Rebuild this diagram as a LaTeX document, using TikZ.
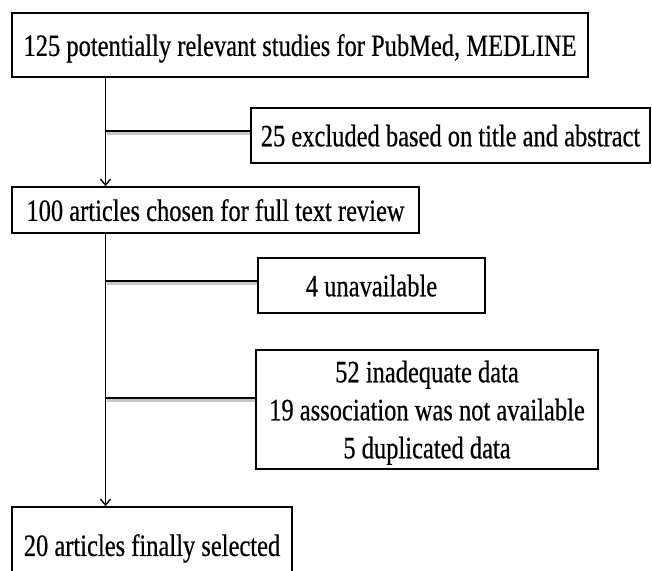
\documentclass[tikz,border=0pt]{standalone}
\usepackage{fontspec}
\setmainfont{Liberation Serif}[FakeStretch=0.79,FakeBold=0.5]
\usetikzlibrary{arrows.meta}
\begin{document}
\begin{tikzpicture}[x=1pt,y=-1pt,
  box/.style={draw, line width=1.6pt, inner sep=0pt, text depth=0pt,
    font=\fontsize{31}{38}\selectfont, align=center},
  conn/.style={line width=1.4pt},
  arr/.style={conn, -{Straight Barb[length=6pt,width=10pt]}},
  shadowline/.style={line width=2.4pt, black!22}]
\useasboundingbox (0,0) rectangle (652,570);
\node[box, minimum width=576pt, minimum height=64pt] (s1) at (300,45)
  {125 potentially relevant studies for PubMed, MEDLINE};
\node[box, minimum width=399pt, minimum height=55pt] (e1) at (450.5,135.5)
  {25 excluded based on title and abstract};
\node[box, minimum width=407pt, minimum height=46pt] (s2) at (215.5,210)
  {100 articles chosen for full text review};
\node[box, minimum width=227pt, minimum height=55pt] (e2) at (371.5,285.5)
  {4 unavailable};
\node[box, minimum width=342pt, minimum height=119pt] (e3) at (427,409.5)
  {52 inadequate data\\19 association was not available\\5 duplicated data};
\node[box, minimum width=280pt, minimum height=76pt] (s3) at (152,545)
  {20 articles finally selected};
\coordinate (v) at (105.5,0);
\coordinate (b1) at (105.5,131);
\coordinate (b2) at (105.5,281);
\coordinate (b3) at (105.5,398);
\foreach \b/\e in {b1/e1,b2/e2,b3/e3}{
  \draw[shadowline] ([xshift=1pt,yshift=-2.3pt]\b) -- ([yshift=-2.3pt]\b -| \e.west);
  \draw[conn] (\b) -- (\b -| \e.west);
}
\draw[arr] (s1.south -| v) -- (s2.north -| v);
\draw[arr] (s2.south -| v) -- (s3.north -| v);
\end{tikzpicture}
\end{document}
